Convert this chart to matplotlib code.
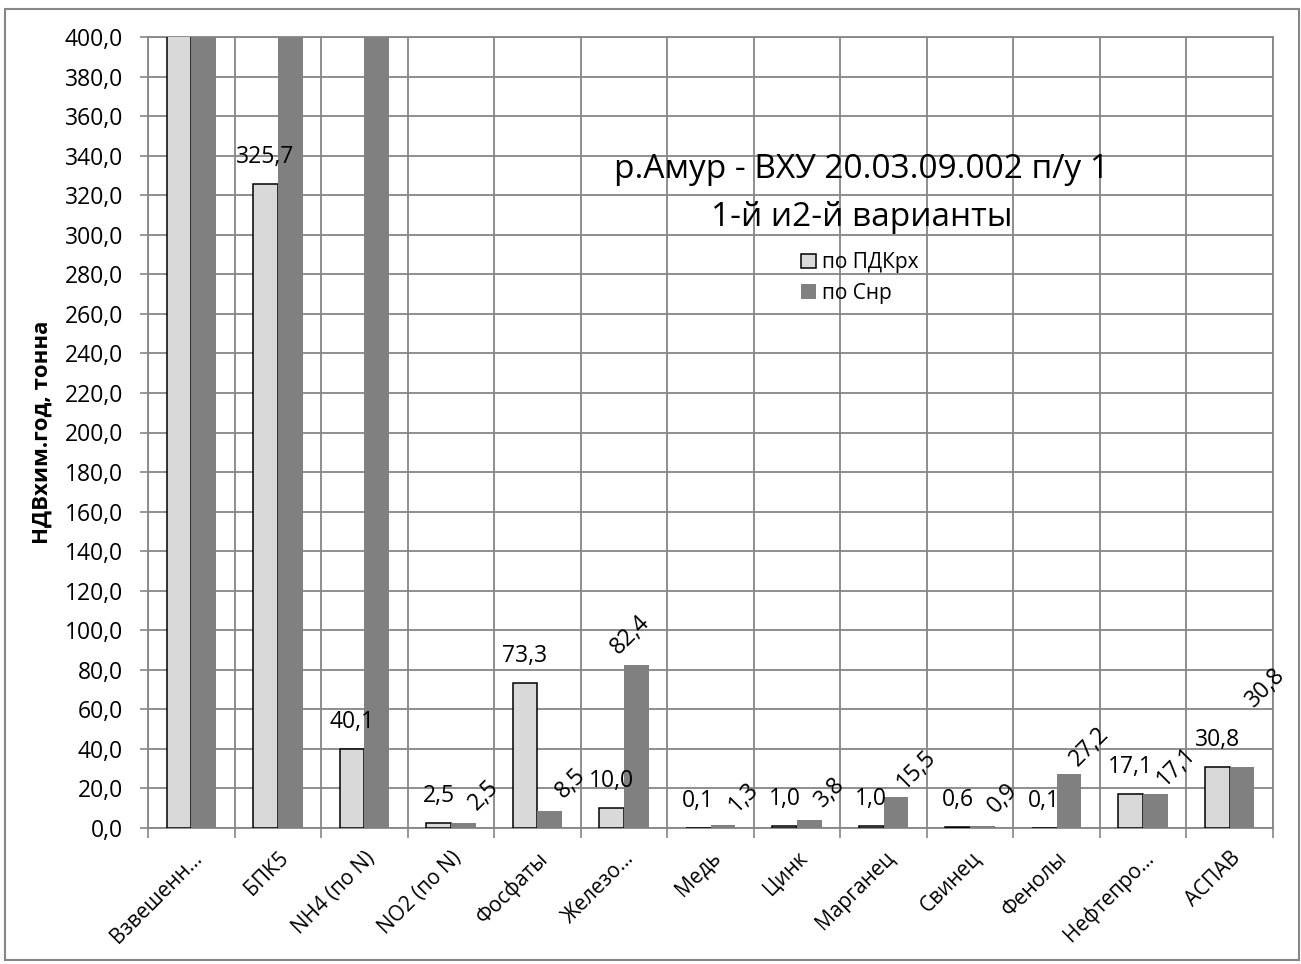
import numpy as np
import matplotlib
matplotlib.use("Agg")
import matplotlib.pyplot as plt
from matplotlib.patches import Rectangle, Patch
from matplotlib.ticker import FuncFormatter
from matplotlib.transforms import ScaledTranslation

plt.rcParams['font.family'] = ['Open Sans', 'DejaVu Sans']

# data (values above 400 are cut off in the original, estimated)
categories = ["Взвешенн...", "БПК5", "NH4 (по N)", "NO2 (по N)", "Фосфаты", "Железо...",
              "Медь", "Цинк", "Марганец", "Свинец", "Фенолы", "Нефтепро...", "АСПАВ"]
pdk_rx = [1850.0, 325.7, 40.1, 2.5, 73.3, 10.0, 0.1, 1.0, 1.0, 0.6, 0.1, 17.1, 30.8]
s_nr = [1850.0, 960.0, 510.0, 2.5, 8.5, 82.4, 1.3, 3.8, 15.5, 0.9, 27.2, 17.1, 30.8]
series_names = ["по ПДКрх", "по Снр"]
title_lines = ["р.Амур - ВХУ 20.03.09.002 п/у 1", "1-й и2-й варианты"]
ylabel = "НДВхим.год, тонна"

light = "#d9d9d9"
dark = "#808080"
grid_c = "#868686"
fs = 16.5

fig = plt.figure(figsize=(13.01, 9.64), dpi=100)
ax = fig.add_axes([148 / 1301, 1 - 828 / 964, 1125 / 1301, 791 / 964])

n = len(categories)
x = np.arange(n)
w = 1 / 3.5
ax.bar(x - w / 2, pdk_rx, w, color=light, edgecolor="black", linewidth=1.1, zorder=3)
ax.bar(x + w / 2, s_nr, w, color=dark, linewidth=0, zorder=3)

ax.set_xlim(-0.5, n - 0.5)
ax.set_ylim(0, 400)
ax.set_yticks(np.arange(0, 401, 20))
ax.yaxis.set_major_formatter(FuncFormatter(lambda v, p: f"{v:.1f}".replace(".", ",")))

# category boundaries carry the ticks and grid, centres carry the labels
ax.set_xticks(np.arange(-0.5, n, 1))
ax.set_xticklabels([])
ax.set_xticks(x, minor=True)
ax.set_xticklabels(categories, minor=True, rotation=45, ha="right",
                   rotation_mode="anchor", fontsize=15)
shift = ScaledTranslation(6 / 100, 0, fig.dpi_scale_trans)
for lab in ax.get_xticklabels(minor=True):
    lab.set_transform(lab.get_transform() + shift)
ax.tick_params(axis="x", which="major", length=7, color=grid_c, width=1.2)
ax.tick_params(axis="x", which="minor", length=0, pad=14)
ax.tick_params(axis="y", length=6, color=grid_c, width=1.2, labelsize=fs, pad=12)

ax.grid(True, color=grid_c, linewidth=1.3, zorder=0)
ax.set_axisbelow(True)
for s in ax.spines.values():
    s.set_color(grid_c)
    s.set_linewidth(1.3)

ax.set_ylabel(ylabel, fontsize=16, fontweight="bold")
ax.yaxis.set_label_coords(-0.085, 0.5)

def fmt(v):
    return f"{v:.1f}".replace(".", ",")

for i in range(n):
    if pdk_rx[i] <= 400:
        ax.annotate(fmt(pdk_rx[i]), (x[i] - w / 2, pdk_rx[i]), xytext=(0, 19.5),
                    textcoords="offset points", ha="center", va="center", fontsize=fs)
    if s_nr[i] <= 400:
        dx, dy = 15, 20
        if i == 5:
            dx, dy = -4, 22
        if i == n - 1:
            dx, dy = 17, 57
        ax.annotate(fmt(s_nr[i]), (x[i] + w / 2, s_nr[i]), xytext=(dx, dy),
                    textcoords="offset points", ha="center", va="center",
                    rotation=45, fontsize=fs)

fig.text(862 / 1301, 1 - 170 / 964, title_lines[0], ha="center", va="center", fontsize=24)
fig.text(862 / 1301, 1 - 218 / 964, title_lines[1], ha="center", va="center", fontsize=24)

handles = [Patch(facecolor=light, edgecolor="black", linewidth=1.1),
           Patch(facecolor=dark, edgecolor="none")]
fig.legend(handles, series_names, loc="upper left",
           bbox_to_anchor=(793 / 1301, 1 - 244 / 964), frameon=False,
           fontsize=15, handlelength=0.7, handleheight=0.7, handletextpad=0.3,
           labelspacing=0.45, borderaxespad=0)

fig.add_artist(Rectangle((5 / 1301, 1 - 960 / 964), 1294 / 1301, 951 / 964,
                         transform=fig.transFigure, fill=False,
                         edgecolor=grid_c, linewidth=1.5))

fig.savefig("out.png", dpi=100)
